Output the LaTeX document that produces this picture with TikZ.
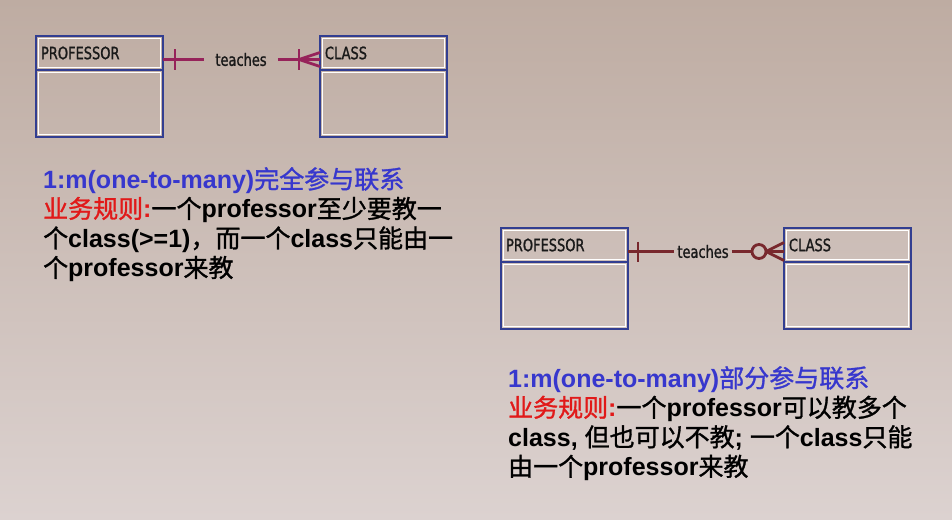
\documentclass[tikz,border=0pt]{standalone}
\usepackage{fontspec}
\usepackage{xcolor}
\usepackage{tikz}
\setmainfont{Liberation Sans}
\newfontfamily\cjk{Noto Sans CJK SC}[FakeBold=1.2]
\newfontfamily\lblfont{DejaVu Sans Condensed}[FakeStretch=0.85, FakeBold=1.2]
\newcommand{\zh}[1]{{\cjk\mdseries #1}}
\definecolor{entBlue}{RGB}{50, 62, 145}
\definecolor{relMagenta}{RGB}{150, 35, 90}
\definecolor{relMaroon}{RGB}{120, 40, 45}
\definecolor{ruleBlue}{RGB}{55, 55, 205}
\definecolor{ruleRed}{RGB}{225, 25, 25}
\definecolor{bgTop}{RGB}{190, 172, 162}
\definecolor{bgBottom}{RGB}{220, 210, 208}
\usetikzlibrary{positioning}

\begin{document}
\begin{tikzpicture}[x=1pt, y=-1pt,
        entity/.style={draw=entBlue, line width=2.5pt, outer sep=0pt, inner xsep=5pt, inner ysep=0pt,
            text width=117pt, align=left, minimum height=34pt, text=black!90,
            font=\lblfont\fontsize{17}{19}\selectfont},
        entbody/.style={entity, minimum height=67pt},
        inline/.style={white, line width=1pt},
        relname/.style={inner ysep=0pt, text=black!90, font=\lblfont\fontsize{17}{19}\selectfont},
        link1/.style={relMagenta, line width=2.8pt},
        link2/.style={relMaroon, line width=2.8pt},
        rule/.style={anchor=north west, align=left, inner sep=0pt, text=black,
            font=\fontsize{25}{29.5}\selectfont\bfseries}]
        \useasboundingbox (0,0) rectangle (952,519);
        \shade[top color=bgTop, bottom color=bgBottom] (0,0) rectangle (952,519);

        \node[entity, anchor=north west] (prof1) at (36,36) {PROFESSOR};
        \node[entbody, below=0pt of prof1] (prof1body) {};
        \node[entity, anchor=north west] (class1) at (320,36) {CLASS};
        \node[entbody, below=0pt of class1] (class1body) {};
        \node[entity, anchor=north west] (prof2) at (501,228) {PROFESSOR};
        \node[entbody, below=0pt of prof2] (prof2body) {};
        \node[entity, anchor=north west] (class2) at (784,228) {CLASS};
        \node[entbody, below=0pt of class2] (class2body) {};
        \foreach \n in {prof1, prof1body, class1, class1body, prof2, prof2body, class2, class2body}
            \draw[inline] ([xshift=2.5pt,yshift=-2.5pt]\n.north west) rectangle ([xshift=-2.5pt,yshift=2.5pt]\n.south east);

        \coordinate (p1) at ([yshift=-6.5pt]prof1.east);
        \coordinate (c1) at ([yshift=-6.5pt]class1.west);
        \coordinate (p2) at ([yshift=-6.5pt]prof2.east);
        \coordinate (c2) at ([yshift=-6.5pt]class2.west);

        \node[relname, inner xsep=11pt] (teach1) at (241,59.5) {teaches};
        \draw[link1] (p1) -- (teach1.west);
        \draw[link1] (teach1.east) -- (c1);
        \draw[link1] ([xshift=12pt,yshift=10pt]p1) -- ([xshift=12pt,yshift=-10pt]p1);
        \draw[link1] ([xshift=-21pt,yshift=10pt]c1) -- ([xshift=-21pt,yshift=-10pt]c1);
        \draw[link1] ([xshift=-21pt]c1) -- ([yshift=7pt]c1) ([xshift=-21pt]c1) -- ([yshift=-7pt]c1);

        \node[relname, inner xsep=3pt] (teach2) at (703,251.5) {teaches};
        \draw[link2] (p2) -- (teach2.west);
        \draw[link2] (teach2.east) -- ([xshift=-32pt]c2);
        \draw[link2] ([xshift=10pt,yshift=10pt]p2) -- ([xshift=10pt,yshift=-10pt]p2);
        \draw[link2] ([xshift=-25pt]c2) circle (7pt);
        \draw[link2] ([xshift=-18pt]c2) -- (c2) ([xshift=-18pt]c2) -- ([yshift=9pt]c2) ([xshift=-18pt]c2) -- ([yshift=-9pt]c2);

        \node[rule] (rule1) at (43,167) {{\color{ruleBlue}1:m(one-to-many)\zh{完全参与联系}}\\
            {\color{ruleRed}\zh{业务规则}:}\zh{一个}professor\zh{至少要教一}\\
            \zh{个}class(>=1)\zh{，而一个}class\zh{只能由一}\\
            \zh{个}professor\zh{来教}};
        \node[rule] (rule2) at (508,366) {{\color{ruleBlue}1:m(one-to-many)\zh{部分参与联系}}\\
            {\color{ruleRed}\zh{业务规则}:}\zh{一个}professor\zh{可以教多个}\\
            class, \zh{但也可以不教}; \zh{一个}class\zh{只能}\\
            \zh{由一个}professor\zh{来教}};
    \end{tikzpicture}
\end{document}
